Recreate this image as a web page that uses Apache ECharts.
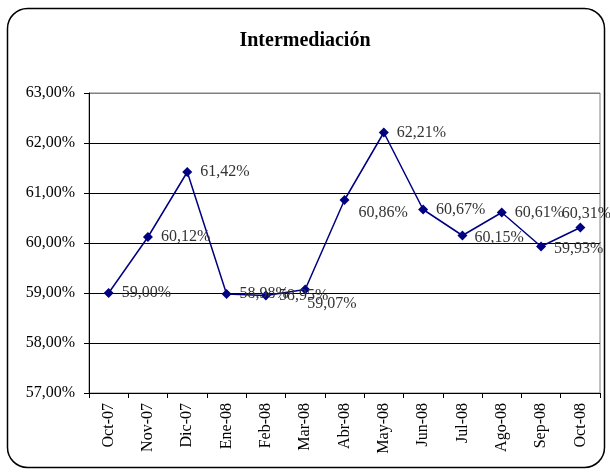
<!DOCTYPE html>
<html>
<head>
<meta charset="utf-8">
<script src="https://cdn.jsdelivr.net/npm/echarts@6/dist/echarts.min.js"></script>
<style>
html,body{margin:0;padding:0;background:#fff;}
#c{width:610px;height:474px;}
</style>
</head>
<body>
<div id="c"></div>
<script>
var categories = ['Oct-07','Nov-07','Dic-07','Ene-08','Feb-08','Mar-08','Abr-08','May-08','Jun-08','Jul-08','Ago-08','Sep-08','Oct-08'];
var values = [59.00, 60.12, 61.42, 58.98, 58.95, 59.07, 60.86, 62.21, 60.67, 60.15, 60.61, 59.93, 60.31];
var yTicks = {min: 57, max: 63, interval: 1};

var FONT = 'Liberation Serif';
function fmt(v){ return v.toFixed(2).replace('.', ',') + '%'; }

var labelTweaks = {
  5: {position: [7, 19], align: 'left', verticalAlign: 'middle'},
  6: {position: [19, 18], align: 'left', verticalAlign: 'middle'},
  9: {position: [17, 7], align: 'left', verticalAlign: 'middle'},
  11: {position: [18, 7], align: 'left', verticalAlign: 'middle'},
  12: {position: [11, -9], align: 'center', verticalAlign: 'middle'}
};

var seriesData = values.map(function(v, i){
  var d = {value: v};
  if (labelTweaks[i]) d.label = labelTweaks[i];
  return d;
});

var chart = echarts.init(document.getElementById('c'), null, {renderer: 'canvas'});
chart.setOption({
  animation: false,
  backgroundColor: '#fff',
  graphic: [{
    type: 'rect',
    shape: {x: 7.5, y: 8.5, width: 597, height: 459, r: 20},
    style: {fill: 'none', stroke: '#000', lineWidth: 1.5},
    z: 100
  }],
  title: {
    text: 'Intermediación',
    left: 'center',
    top: 26,
    textStyle: {fontFamily: FONT, fontSize: 20, fontWeight: 'bold', color: '#000'}
  },
  grid: {left: 89, top: 93, width: 511, height: 300, show: true, borderColor: '#808080', borderWidth: 1, backgroundColor: 'transparent'},
  xAxis: {
    type: 'category',
    data: categories,
    boundaryGap: true,
    axisLine: {lineStyle: {color: '#000', width: 1}},
    axisTick: {show: true, length: 5, lineStyle: {color: '#000'}},
    axisLabel: {rotate: 90, margin: 10, fontFamily: FONT, fontSize: 16, color: '#000', interval: 0},
    splitLine: {show: false}
  },
  yAxis: {
    type: 'value',
    min: yTicks.min, max: yTicks.max, interval: yTicks.interval,
    axisLine: {show: true, lineStyle: {color: '#000', width: 1}},
    axisTick: {show: true, length: 5, lineStyle: {color: '#000'}},
    axisLabel: {margin: 14, fontFamily: FONT, fontSize: 16, color: '#000', formatter: function(v){ return fmt(v); }},
    splitLine: {show: true, lineStyle: {color: ['#000','#000','#000','#000','#000','#000','#808080'], width: 1}}
  },
  series: [{
    type: 'line',
    data: seriesData,
    symbol: 'diamond',
    symbolSize: 10,
    itemStyle: {color: '#000080'},
    lineStyle: {color: '#000080', width: 1.5},
    label: {
      show: true,
      position: 'right',
      distance: 8,
      fontFamily: FONT,
      fontSize: 16,
      color: '#333',
      formatter: function(p){ return fmt(p.value); }
    },
    labelLayout: {hideOverlap: false},
    clip: false
  }]
});
</script>
</body>
</html>
